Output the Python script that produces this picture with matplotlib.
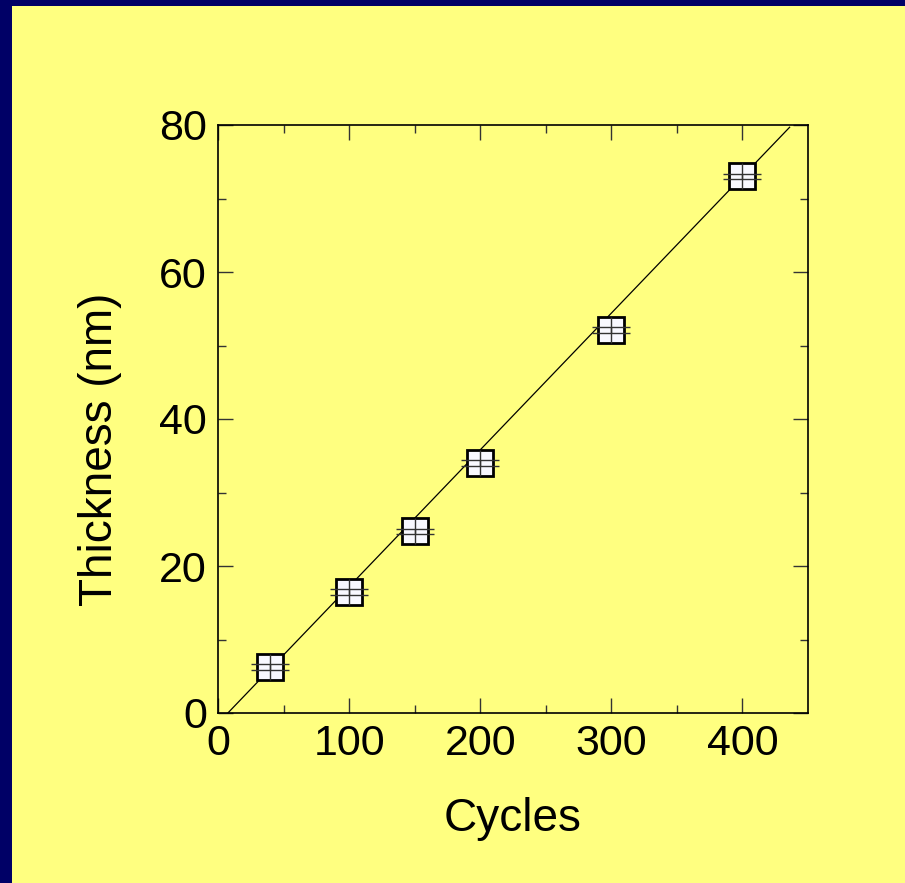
import numpy as np
import matplotlib
matplotlib.use("Agg")
import matplotlib.pyplot as plt
from matplotlib.patches import Rectangle

plt.rcParams['font.family'] = ['Liberation Sans', 'DejaVu Sans']

# data
cycles = [40, 100, 150, 200, 300, 400]
thickness = [6.3, 16.5, 24.7, 34.0, 52.1, 73.0]
thickness_err = [0.4, 0.4, 0.4, 0.4, 0.4, 0.4]

# linear fit line as drawn
fit_slope = 0.186
fit_intercept = -1.4
fit_x = [7.6, 436]

fig = plt.figure(figsize=(9.05, 8.83), dpi=100)
fig.patch.set_facecolor('#000066')
fig.patches.append(Rectangle((12 / 905, 0), 1, 1 - 6 / 883, transform=fig.transFigure,
                             facecolor='#FFFF80', edgecolor='none', zorder=-5))

ax = fig.add_axes([218 / 905, 1 - 713 / 883, 590 / 905, 588 / 883])
ax.set_facecolor('#FFFF80')

fx = np.array(fit_x)
ax.plot(fx, fit_slope * fx + fit_intercept, color='black', lw=0.9, zorder=2)

ax.plot(cycles, thickness, 's', ms=19, mfc='#F8F8FF', mec='black', mew=2.0, zorder=3)
ax.plot(cycles, thickness, '|', ms=19, mec='#333333', mew=1.0, zorder=4)
ax.errorbar(cycles, thickness, yerr=thickness_err, fmt='none', ecolor='#333333',
            elinewidth=1.0, capsize=13.5, capthick=1.0, zorder=4)

ax.set_xlim(0, 450)
ax.set_ylim(0, 80)
ax.set_xticks([0, 100, 200, 300, 400])
ax.set_xticks([50, 150, 250, 350], minor=True)
ax.set_yticks([0, 20, 40, 60, 80])
ax.set_yticks([10, 30, 50, 70], minor=True)
ax.tick_params(which='both', direction='in', top=True, right=True,
               labelsize=31, width=1, color='#333333', pad=8)
ax.tick_params(which='major', length=11)
ax.tick_params(which='minor', length=6)
for s in ax.spines.values():
    s.set_linewidth(1.2)

ax.set_xlabel('Cycles', fontsize=33, labelpad=24)
ax.set_ylabel('Thickness (nm)', fontsize=33)
# label sits a little below the axes centre in the original
ax.yaxis.set_label_coords(-0.163, 0.449)

fig.savefig('out.png', dpi=100, facecolor=fig.get_facecolor())
